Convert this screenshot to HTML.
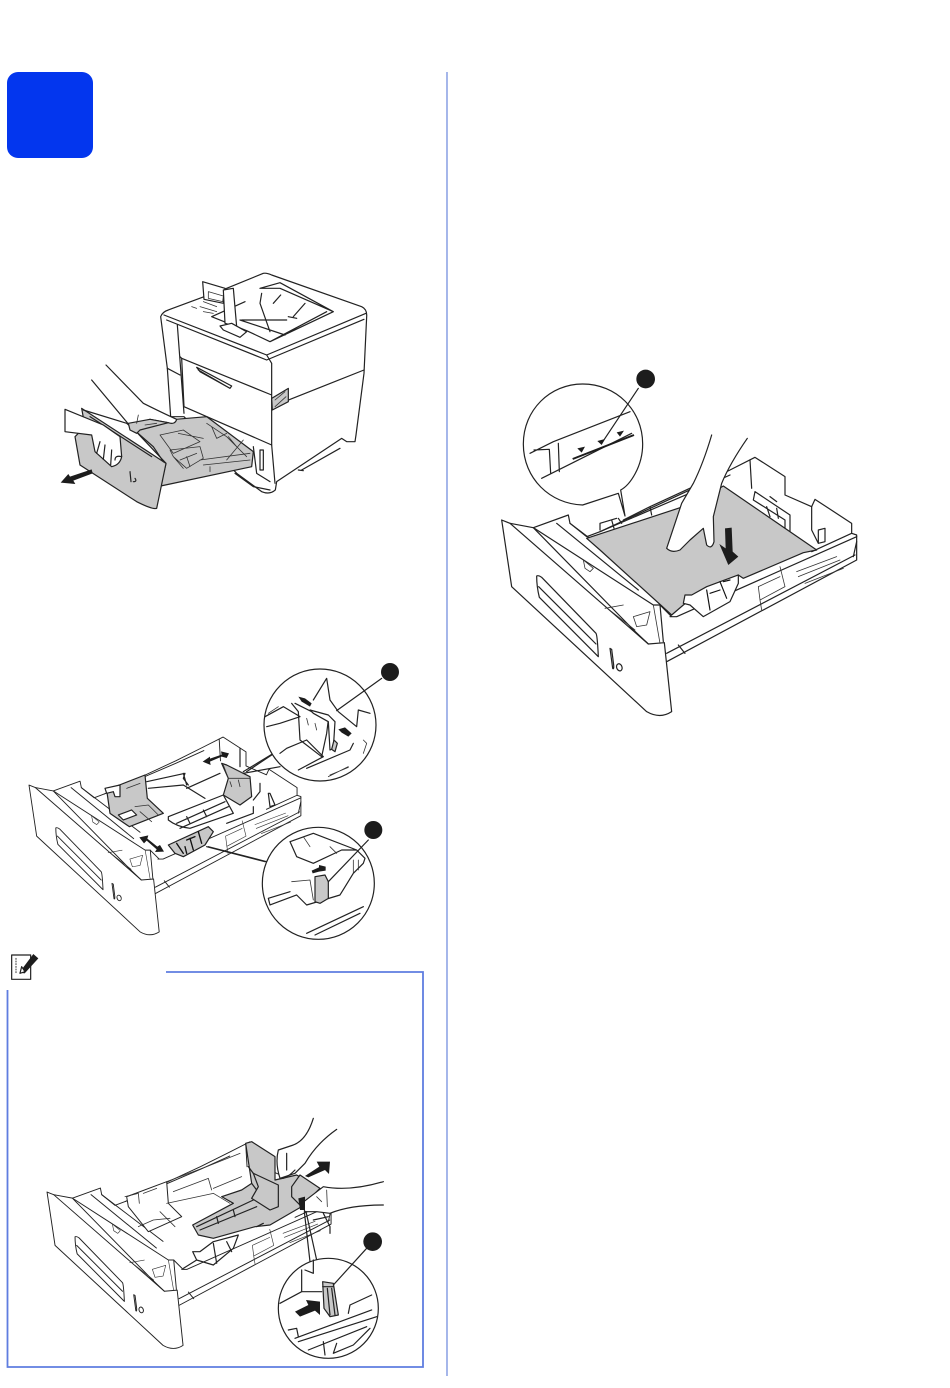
<!DOCTYPE html>
<html><head><meta charset="utf-8"><style>
html,body{margin:0;padding:0;background:#fff}
svg{display:block}
.l{fill:none;stroke:#222;stroke-width:3.6;stroke-linejoin:round;stroke-linecap:round}
.w{fill:#fff;stroke:#222;stroke-width:3.6;stroke-linejoin:round;stroke-linecap:round}
.g{fill:#c8c8c8;stroke:#222;stroke-width:3.6;stroke-linejoin:round}
.k{fill:#1c1c1c;stroke:none}
.t{fill:none;stroke:#333;stroke-width:2.4;stroke-linecap:round;stroke-linejoin:round}
</style></head><body>
<svg xmlns="http://www.w3.org/2000/svg" width="950" height="1388" viewBox="0 0 950 1388">
<defs>
<g id="tray">
<path class="w" d="M130,503L235,465L240,490L290,530L330,515L610,385L720,330L795,292L885,350L885,405L965,440L975,418L1085,490L1085,520L1100,525L1100,600L530,905L470,850Z"/>
<path class="l" d="M330,515L610,395L720,345M780,300L785,385M1085,520L965,575M1100,530L560,770L540,770M1100,545L1090,590M530,880L1095,585M510,735L520,845M545,770L510,735"/>
<path class="t" d="M920,635L1040,590M925,650L1050,600M945,670L1060,625M870,620L885,680L810,720L805,680L870,650M810,720L815,750"/>
<path class="l" d="M565,855L585,880"/>
<path class="w" d="M35,480L60,490L475,852L523,848L545,1055Q510,1078 470,1055L65,680Z"/>
<path class="l" d="M130,503L490,735L510,735M200,490L445,690M240,490L470,665M60,490L130,503M475,852L420,800"/>
<path class="t" d="M280,600L310,625L300,635L285,625ZM430,770L480,755L470,795L440,800ZM365,755L435,810M345,745L400,735M490,735L510,850"/>
<path class="w" d="M140,648Q145,645 155,652L318,820Q322,826 325,890L148,712Q140,680 140,648Z"/>
<path class="l" d="M146,680L318,852"/>
<path class="l" d="M360,865L368,925Q372,930 371,915L365,868Z"/>
<ellipse class="l" cx="388" cy="922" rx="8" ry="11" transform="rotate(-20 388 922)"/>
</g>
</defs>

<rect x="7" y="72" width="86" height="86" rx="11" fill="#0336ee"/>
<line x1="447" y1="72" x2="447" y2="1376" stroke="#7f98e2" stroke-width="1.4"/>
<path d="M166,972H423V1367H7.5V990" fill="none" stroke="#5f7de0" stroke-width="1.8"/>

<!-- Figure 1 : printer -->
<g transform="translate(40,260) scale(.33333)">
<path class="w" d="M362,170Q368,155 385,150L560,85L670,40Q680,38 695,45L965,140Q982,148 980,170L972,340L948,525L945,545L920,545L905,535L710,665L706,690Q690,705 665,695L590,640L432,470L392,470L382,325Z"/>
<path class="l" d="M372,165L680,285L978,160M380,180L680,300L972,178M680,285L695,310M412,195L432,460M382,325L420,345M695,310L695,555M420,290L425,295L695,405M425,295L432,440L695,555M695,440L972,330M785,630L900,565M775,630L790,632"/>
<path class="l" d="M470,322L575,378L570,385L480,335ZM475,330L570,385"/>
<path class="g" d="M695,415L745,385L745,425L697,450Z"/>
<path class="t" d="M705,420L735,395M705,440L738,410"/>
<path class="l" d="M640,560L650,640L690,665M660,570L670,570L670,630L660,630ZM585,640L640,680L690,690M695,555L705,670"/>
<path class="l" d="M515,170L615,125M515,170L620,212L690,245L880,155L720,85L660,85M660,85L720,68L880,155M665,100L660,130L690,215M690,245L860,155M600,180L735,225M605,180L740,180M700,130L722,105M760,170L795,130M745,170L770,175"/>
<path class="w" d="M488,65L555,85L550,130L492,118Z"/>
<path class="t" d="M505,95L550,108L548,125L505,115Z"/>
<path class="w" d="M550,90L580,85L590,200L555,190Z"/>
<path class="w" d="M540,198L575,190L620,215L600,232L550,210Z"/>
<path class="t" d="M455,140L470,145M490,125L530,140M480,140L530,155M490,155L520,160"/>
<path class="g" d="M265,490L500,470L640,575L635,620L362,678L378,610Z"/>
<path class="t" d="M360,525L430,510L480,545L400,580ZM415,520L490,535M500,490L560,530L620,590M390,570L480,560L490,595L440,625L400,590ZM420,600L470,580M440,590L450,620M480,600L630,580M490,615L630,600M510,620L510,635M560,600L610,540M515,500L530,535L560,520M565,530L590,560M400,590L430,625"/>
<path class="g" d="M125,445L378,610L350,745Q340,750 290,725L120,615L105,530L135,500Z"/>
<path class="l" d="M130,450L260,490L340,560L370,605M150,470L335,590"/>
<path class="l" d="M270,635L273,665M285,655Q292,665 280,665"/>
<path class="w" d="M198,315L310,430Q370,460 410,478Q405,495 385,488L330,478L290,490L270,498L155,360"/>
<path class="g" d="M265,490L330,478L385,488L300,510L290,520L270,510Z"/>
<path class="t" d="M290,490L295,465M315,495L350,490"/>
<path class="w" d="M75,448L190,495L240,530L245,590Q240,615 215,620L165,575L155,525L75,515Z"/>
<path class="l" d="M170,580L180,545M190,598L195,555M212,615L215,570M245,590Q225,585 225,600"/>
<path class="k" d="M62,668L85,642L90,650L155,628L158,640L100,662L106,672Z"/>
</g>

<!-- Figure 2 -->
<use href="#tray" transform="translate(20.06,662.5) scale(.2553)"/>
<g transform="translate(20,650) scale(.33333)">
<path class="l" d="M380,395L495,370L490,385L505,405M490,370L500,405M445,500L610,435L640,490L510,535Q470,530 445,510ZM470,520L615,455M480,535L625,470M510,520L500,500M560,500L550,480"/>
<path class="l" d="M385,415L490,405L555,445M500,415L600,370M660,350L660,295M720,400L720,425L700,450M750,430L765,465L750,470L745,430ZM620,520L700,490L700,470"/>
<path class="g" d="M260,420L375,375L382,445L430,490L328,530L270,490Z"/>
<path class="w" d="M255,415L300,405L300,440L285,440L280,425L260,430Z"/>
<path class="w" d="M295,495L335,480L350,495L310,510Z"/>
<path class="t" d="M345,470L385,465L415,495M360,485L395,515M320,415L360,400"/>
<path class="g" d="M605,340L620,345L690,380L695,440L660,465L610,435L625,385Z"/>
<path class="t" d="M610,345L625,385L690,385M650,360L670,370M630,395L635,410M655,390L660,410"/>
<path class="g" d="M445,585L565,530L580,545L555,585L490,620L465,610Z"/>
<path class="t" d="M470,580L490,610M510,565L520,600M535,545L545,580M500,570L525,560M495,590L500,610" style="stroke:#111;stroke-width:4"/>
<path class="k" d="M548,335L570,320L570,326L605,314L603,304L627,310L620,324L605,320L570,335L572,345Z"/>
<path class="k" d="M358,562L385,556L382,566L412,590L420,585L432,605L405,606L410,598L380,572L372,580Z"/>
<path class="l" d="M670,365L760,310M670,370L780,350M565,590L740,635L760,600"/>
<circle class="w" cx="900" cy="225" r="168"/>
<path class="l" d="M735,200L790,170L840,200L780,220L740,230M800,295L860,270L910,320L835,360M860,270L800,295L780,310M860,355L990,300L1000,280M880,150L920,85L930,150L955,185L1010,230L1015,180L1050,190M815,160L835,185L840,270L905,320L920,250L925,210L825,160"/>
<path class="t" d="M745,190L775,170M860,205L865,225M885,220L890,240M925,380L985,350M930,375L985,352M1030,270L1040,280L1030,310"/>
<path class="w" d="M870,180L925,195L945,215L940,295L930,300L925,215L880,190Z"/>
<path class="k" d="M835,140L855,145L875,160L870,170L845,155Z"/>
<path class="k" d="M955,238L975,232L995,250L985,260L965,248Z"/>
<path class="g" d="M942,270L952,280L945,305L935,298Z"/>
<path class="l" d="M950,182L1085,85"/>
<circle class="k" cx="1110" cy="66" r="27"/>
<circle class="w" cx="895" cy="700" r="168"/>
<path class="l" d="M810,575L880,550L1010,600L1035,625L1030,640L1000,670L960,735L860,765L830,735L750,765L745,745L810,725M810,575L830,620L880,640L965,600L1010,600M860,850L1030,770M885,855L1020,790"/>
<path class="t" d="M850,560L870,590M930,590L950,610M1000,630L1000,670M1015,630L1015,660M815,695L870,690L880,750"/>
<path class="g" d="M885,680L915,675L925,695L925,745L900,760L885,755Z"/>
<path class="k" d="M875,662L897,652L897,645L917,650L917,662L897,665L878,670Z"/>
<path class="l" d="M925,695L1045,570"/>
<circle class="k" cx="1060" cy="540" r="27"/>
<path class="l" d="M560,590L735,635M680,365L755,315"/>
</g>

<!-- Figure 3 -->
<use href="#tray" transform="translate(490,360) scale(.33333)"/>
<g transform="translate(490,360) scale(.33333)">
<path class="l" d="M795,395L900,465L900,520L885,520M795,395L790,420L885,480L885,520M965,440L965,510L985,550M1005,505L1005,545L985,550L985,510ZM840,410L860,425M830,440L840,470M860,445L865,475"/>
<path class="g" d="M290,535L610,430L700,378L980,570L940,578L760,655L745,645L600,720L580,735L545,765L330,570Z"/>
<path class="w" d="M585,705L605,705L650,680L745,645L745,670L720,725L640,770L600,735L580,730Z"/>
<path class="t" d="M650,690L660,750M690,665L710,715M700,665L720,660M660,700L690,690" style="stroke:#111;stroke-width:3.5"/>
<path class="l" d="M330,510L330,490L380,475M365,480L372,505M385,475L395,490M400,480L480,440L485,465M480,440L610,380"/>
<path class="t" d="M405,483L415,478M425,475L430,470M437,470L443,465"/>
<path class="w" d="M665,225Q640,310 610,370L575,430L530,565Q545,580 570,570L600,540L640,505L650,555Q665,570 672,545L670,470L695,370Q720,310 772,235"/>
<path class="k" d="M705,505L725,503L728,575L745,590L715,615L688,552L707,565Z"/>
<path class="w" d="M278,72C180,72 100,150 100,252C100,355 180,432 278,435L385,400L405,468L392,390C420,375 458,320 458,252C458,150 378,72 278,72Z"/>
<path class="l" d="M155,355L425,220M120,280L190,245L420,155M132,270L178,268L182,340M205,250L208,335"/>
<path d="M248,297L432,225" stroke="#1c1c1c" stroke-width="6" fill="none"/>
<path class="l" d="M335,250L445,85"/>
<path class="k" d="M262,265L285,260L275,278ZM322,243L345,237L335,255ZM380,217L402,212L390,230Z"/>
<circle class="k" cx="467" cy="57" r="28"/>
</g>

<!-- Figure 4 -->
<use href="#tray" transform="translate(37.7,1064) scale(.2667)"/>
<g transform="translate(0,940) scale(.33333)">
<path class="w" d="M35,45H92V118H35Z"/>
<path class="t" d="M48,55V100" style="stroke-dasharray:3 5;stroke-width:3"/>
<path class="k" d="M58,98L100,42L115,55L74,100Z"/>
<path class="w" d="M65,80L75,95L60,100Z"/>
<path class="g" d="M737,610L755,605L825,650L825,720L890,705L955,745L905,800L810,855L765,860L640,895L595,885L578,855L700,790L665,770L725,750L755,730Z"/>
<path class="l" d="M600,870L770,800M590,860L760,780M650,830L655,850M700,810L705,830M770,860L790,850M755,730L770,750L830,735M745,680L760,700"/>
<path class="g" d="M760,700L835,735L835,800L810,810L755,775L775,740Z"/>
<path class="g" d="M875,740L900,705L960,745L905,800L875,770Z"/>
<path class="w" d="M380,770L500,725L505,790L545,830L445,875L385,800Z" style="stroke-width:3"/>
<path class="t" d="M375,770L415,760L418,790M430,760L470,745M415,860L460,840L510,835M480,815L525,860M500,725L620,680L720,640M520,755L625,715M625,715L635,750M640,745L725,710M500,790L640,760L690,790"/>
<path class="l" d="M578,935L600,935L640,905L715,885L700,925L640,975L590,960ZM640,910L650,970M680,905L695,935M550,985L590,960"/>
<path class="w" d="M940,535Q920,600 880,615L835,630Q825,670 840,715L885,700L915,670Q950,610 1010,568"/>
<path class="l" d="M860,690L860,640M840,715Q855,720 885,690"/>
<path class="w" d="M1150,725Q1050,755 970,740L905,790L915,815L950,815L990,820Q1050,795 1150,795"/>
<path class="t" d="M980,750L982,800M950,770L965,785"/>
<path class="k" d="M895,775L915,770L915,810L900,810Z"/>
<path class="l" d="M970,820L990,860L990,880M940,840L985,830"/>
<path class="k" d="M915,708L958,680L950,665L990,665L987,702L975,690L925,712Z"/>
<path class="l" d="M918,815L950,960M913,815L930,965"/>
<circle class="w" cx="985" cy="1105" r="150"/>
<path class="l" d="M840,1090L905,1055L965,1055M905,990L905,1055M915,990L940,1000L940,960M885,1195L1115,1110M895,1205L1130,1130M1045,1120L1050,1095L1115,1065M865,1170L890,1165L895,1190M970,1205L975,1245M1010,1210L1000,1240L1060,1215L1110,1165M925,1230L1100,1160"/>
<path class="g" d="M968,1025L1000,1030L1015,1125L990,1130L972,1105Z"/>
<path class="l" d="M982,1045L990,1125M995,1045L1005,1125M968,1040L1000,1040"/>
<path class="k" d="M885,1115L925,1095L918,1080L960,1085L960,1125L945,1112L900,1130Z"/>
<path class="l" d="M1000,1035L1100,925"/>
<circle class="k" cx="1118" cy="905" r="28"/>
</g>
</svg>
</body></html>
